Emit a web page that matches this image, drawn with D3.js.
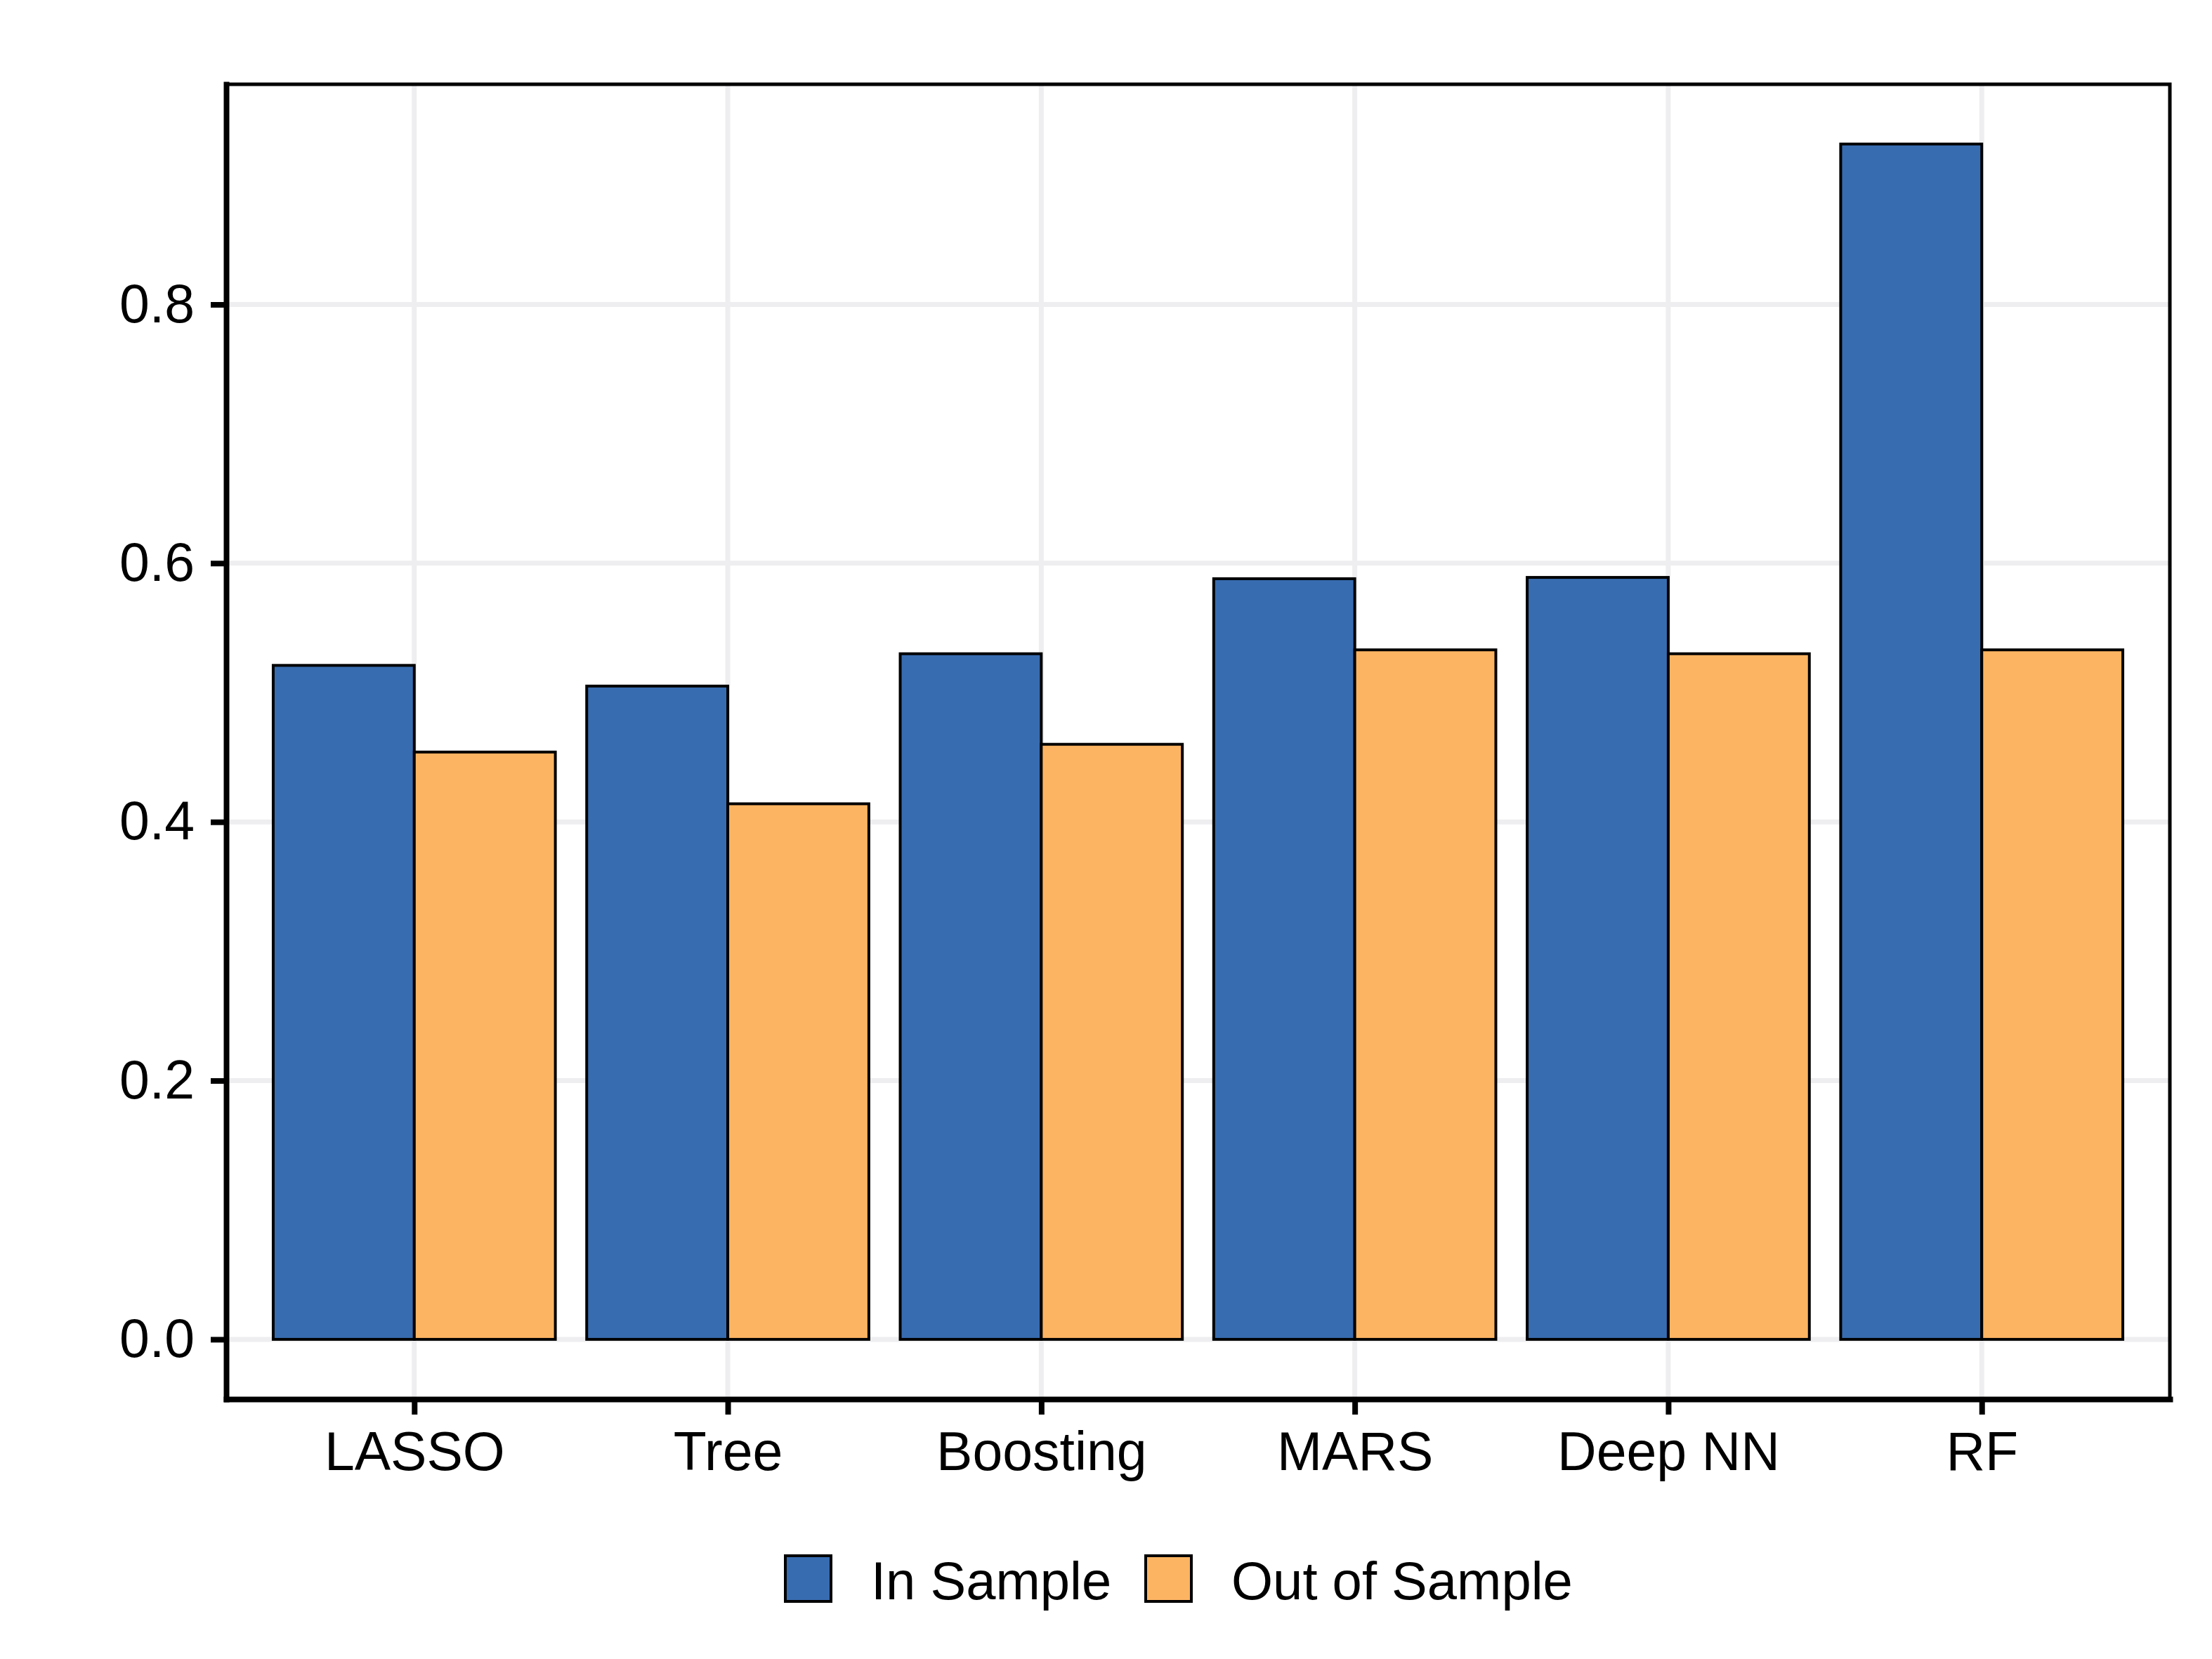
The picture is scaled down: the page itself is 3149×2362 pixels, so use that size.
<!DOCTYPE html>
<html>
<head>
<meta charset="utf-8">
<script src="https://cdn.jsdelivr.net/npm/d3@7"></script>
<style>
  body { margin: 0; background: #fff; }
  text { font-family: "Liberation Sans", Arial, sans-serif; }
</style>
</head>
<body>
<div class="graph-container"></div>
<script>
const svgWidth = 3149;
const svgHeight = 2362;
const panel = { left: 322, right: 3089, top: 120, bottom: 1992 };

const models = ["LASSO", "Tree", "Boosting", "MARS", "Deep NN", "RF"];
const seriesNames = ["In Sample", "Out of Sample"];
const inSample = [0.521, 0.505, 0.530, 0.588, 0.589, 0.924];
const outSample = [0.454, 0.414, 0.460, 0.533, 0.530, 0.533];
const yTicks = [0.0, 0.2, 0.4, 0.6, 0.8];
const colors = ["#386CB0", "#FDB462"];

const rows = models.map((m, i) => ({ model: m, values: [inSample[i], outSample[i]] }));

const svg = d3.select(".graph-container")
    .append("svg")
    .attr("width", svgWidth)
    .attr("height", svgHeight);

const xScale = d3.scalePoint()
    .domain(models)
    .range([panel.left, panel.right])
    .padding(0.6);

const step = xScale.step();
const xInner = d3.scaleBand()
    .domain(seriesNames)
    .range([-0.45 * step, 0.45 * step]);

const yMax = d3.max(inSample.concat(outSample));
const yPad = yMax * 0.05;
const yScale = d3.scaleLinear()
    .domain([-yPad, yMax + yPad])
    .range([panel.bottom, panel.top]);

// grid
svg.append("g")
    .selectAll("line")
    .data(yTicks)
    .enter()
    .append("line")
    .attr("x1", panel.left)
    .attr("x2", panel.right)
    .attr("y1", d => yScale(d))
    .attr("y2", d => yScale(d))
    .attr("stroke", "#EEEEF0")
    .attr("stroke-width", 7);

svg.append("g")
    .selectAll("line")
    .data(models)
    .enter()
    .append("line")
    .attr("x1", d => xScale(d))
    .attr("x2", d => xScale(d))
    .attr("y1", panel.top)
    .attr("y2", panel.bottom)
    .attr("stroke", "#EEEEF0")
    .attr("stroke-width", 7);

// bars
const groups = svg.append("g")
    .selectAll("g")
    .data(rows)
    .enter()
    .append("g")
    .attr("transform", d => `translate(${xScale(d.model)},0)`);

groups.selectAll("rect")
    .data(d => d.values.map((v, j) => ({ series: seriesNames[j], value: v, j: j })))
    .enter()
    .append("rect")
    .attr("x", d => xInner(d.series))
    .attr("width", xInner.bandwidth())
    .attr("y", d => yScale(d.value))
    .attr("height", d => yScale(0) - yScale(d.value))
    .attr("fill", d => colors[d.j])
    .attr("stroke", "#000")
    .attr("stroke-width", 4);

// panel border
svg.append("rect")
    .attr("x", panel.left)
    .attr("y", panel.top)
    .attr("width", panel.right - panel.left)
    .attr("height", panel.bottom - panel.top)
    .attr("fill", "none")
    .attr("stroke", "#000")
    .attr("stroke-width", 5);

// axes
const yAxis = d3.axisLeft(yScale)
    .tickValues(yTicks)
    .tickFormat(d3.format(".1f"))
    .tickSize(22)
    .tickSizeOuter(0)
    .tickPadding(23);

const yG = svg.append("g")
    .attr("transform", `translate(${panel.left},0)`)
    .call(yAxis);

const xAxis = d3.axisBottom(xScale)
    .tickSize(22)
    .tickSizeOuter(0)
    .tickPadding(24);

const xG = svg.append("g")
    .attr("transform", `translate(0,${panel.bottom})`)
    .call(xAxis);

[yG, xG].forEach(g => {
    g.select(".domain").attr("stroke", "#000").attr("stroke-width", 8).attr("stroke-linecap", "square");
    g.selectAll(".tick line").attr("stroke", "#000").attr("stroke-width", 8);
    g.selectAll(".tick text")
        .attr("fill", "#000")
        .style("font-size", "77px")
        .style("font-family", "'Liberation Sans', Arial, sans-serif");
});

// legend
const keySize = 65;
const legendY = 2215;
const legendX = [1118, 1631];

const legend = svg.append("g")
    .selectAll("g")
    .data(seriesNames)
    .enter()
    .append("g")
    .attr("transform", (_, i) => `translate(${legendX[i]},${legendY})`);

legend.append("rect")
    .attr("width", keySize)
    .attr("height", keySize)
    .attr("fill", (_, i) => colors[i])
    .attr("stroke", "#000")
    .attr("stroke-width", 4);

legend.append("text")
    .attr("x", keySize + 57)
    .attr("y", 62)
    .style("font-size", "76px")
    .attr("fill", "#000")
    .text(d => d);
</script>
</body>
</html>
